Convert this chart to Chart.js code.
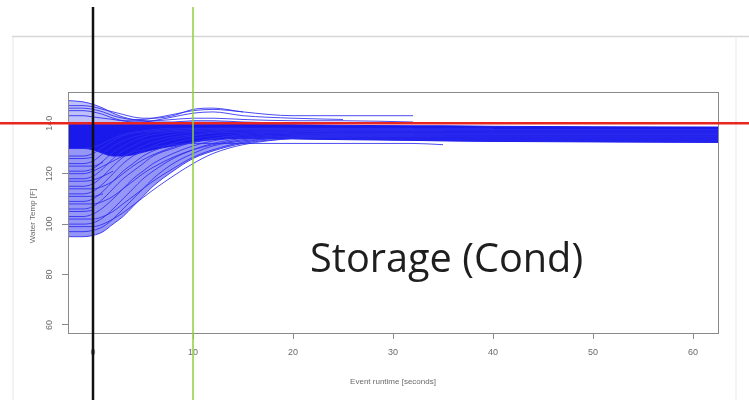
<!DOCTYPE html>
<html>
<head>
<meta charset="utf-8">
<script src="https://cdn.jsdelivr.net/npm/chart.js@4.4.1/dist/chart.umd.min.js"></script>
<style>
  html, body { margin: 0; padding: 0; background: #fff; }
  #wrap { width: 749px; height: 400px; position: relative; }
</style>
</head>
<body>
<div id="wrap"><canvas id="grafico"></canvas></div>
<script>
// eixo x (segundos) e ticks
const times = [-2.5, -1, 0, 1, 2, 3, 4, 5, 6, 8, 10, 12, 15, 20, 25, 32, 35, 40, 50, 62.5];
const xTicks = [0, 10, 20, 30, 40, 50, 60];
const yTicks = [60, 80, 100, 120, 140];

// faixa densa (topo / base)
const bandTop    = [139.6, 139.6, 139.6, 139.6, 139.6, 139.6, 139.6, 139.6, 139.6, 139.6, 139.6, 139.6, 139.5, 139.4, 139.2, 139, 139, 138.8, 138.6, 138.5];
const bandBottom = [130, 130, 129.5, 128, 127, 127, 127.5, 128.5, 129.5, 131, 132.5, 133.5, 134, 133.8, 133.5, 133.2, 133, 132.8, 132.6, 132.4];

// curvas que sobem (agua fria no inicio)
const c95  = [95, 95, 95.5, 97, 100, 103, 107, 111, 115, 121, 126, 129, 132, 134, 134.5, 135, 135, 135, 135, 135];
const c97  = [97, 97, 97.5, 99, 102, 106, 110, 114, 118, 124, 128, 131, 133, 134.5, 135, 135, 135, null, null, null];
const c99  = [99, 99, 99, 100, 102, 104.5, 107.5, 110.5, 113.5, 119, 124, 128, 131.5, 134, 135, 135.5, null, null, null, null];
const c100 = [100, 100, 100.5, 102.5, 106, 110, 114, 118, 121, 126, 129.5, 132, 134, 135, 135.5, 135.5, 135.5, 135.5, 135.5, 135.5];
const c102 = [102, 102, 102, 103, 105, 108, 111, 114, 117, 122, 126.5, 129.5, 132.5, 134.5, 135, 135, null, null, null, null];
const c103 = [103, 103, 104, 106.5, 110, 114, 118, 121, 124, 128, 131, 133, 134.5, 135.5, 136, 136, 136, 136, 136, 136];
const c106 = [106, 106, 107, 110, 114, 118, 121, 124, 127, 130, 132.5, 134, 135, 136, 136, 136, null, null, null, null];
const c108 = [108, 108, 108, 109, 111, 114, 117, 120, 122.5, 126.5, 129.5, 131.5, 133.5, 135, 135.5, null, null, null, null, null];
const c109 = [109, 109, 110, 113, 117, 121, 124, 127, 129, 132, 134, 135, 136, 136.5, 136.5, 136.5, 136.5, 136.5, 136.5, 136.5];
const c112 = [112, 112, 113, 116, 120, 124, 127, 129, 131, 133.5, 135, 136, 136.5, 137, 137, 137, 137, null, null, null];
const c114 = [114, 114, 114, 115, 117, 120, 123, 125.5, 127.5, 130.5, 132.5, 134, 135.5, 136.5, 137, null, null, null, null, null];
const c115 = [115, 115, 116, 119, 123, 126.5, 129, 131, 132.5, 134.5, 135.5, 136.5, 137, 137, 137, 137, 137, 137, 137, 137];
const c118 = [118, 118, 119, 122, 126, 129, 131, 133, 134, 135.5, 136.5, 137, 137.5, 137.5, 137.5, 137.5, 137.5, 137.5, 137.5, 137.5];
const c120 = [120, 120, 121, 123, 125, 127, 128.5, 129.5, 130.5, 131.5, 132, 132, 132, 132, 132, 132, 131.5, null, null, null];
const c121 = [121, 121, 122, 125, 128.5, 131, 133, 134.5, 135.5, 136.5, 137, 137.5, 137.5, 137.5, 137.5, 137.5, 137.5, 137.5, 137.5, 137.5];
const c124 = [124, 124, 125, 128, 131, 133, 134.5, 135.5, 136.5, 137, 137.5, 138, 138, 138, 138, 138, 138, 138, null, null];
const c127 = [127, 127, 128, 130.5, 133, 135, 136, 136.5, 137, 137.5, 138, 138, 138, 138, 138, 138, null, null, null, null];
const c130 = [130, 130, 130.5, 132, 134, 135.5, 136.5, 137, 137.5, 138, 138, 138, 138, 138, null, null, null, null, null, null];
// pedacos curtos antes do evento
const d105 = [105, 105, 105.5, null, null, null, null, null, null, null, null, null, null, null, null, null, null, null, null, null];
const d111 = [111, 111, 111, 112, null, null, null, null, null, null, null, null, null, null, null, null, null, null, null, null];
const d117 = [117, 117, 117.5, 119, 121, null, null, null, null, null, null, null, null, null, null, null, null, null, null, null];
const d123 = [123, 123, 123, 124.5, null, null, null, null, null, null, null, null, null, null, null, null, null, null, null, null];
const d126 = [126, 126, 126.5, null, null, null, null, null, null, null, null, null, null, null, null, null, null, null, null, null];

// curvas acima de 140
const u149 = [149, 148.5, 147.5, 146, 144, 142.5, 141.5, 141, 140.5, 140.5, 141, 141, 140.5, 140, null, null, null, null, null, null];
const u147 = [147, 147, 146.5, 145.5, 144.5, 143.5, 142.5, 142, 142, 143, 145.5, 146, 144.5, 143, 143, 143, null, null, null, null];
const u146 = [146, 146, 145.5, 144.5, 143, 142, 141.5, 141.5, 142, 143.5, 145, 145.5, 144.5, null, null, null, null, null, null, null];
const u145 = [145, 145, 144.5, 143.5, 142, 141, 140.5, 140.5, 141, 142.5, 144, 144.5, 143, 142, 141.5, null, null, null, null, null];
const u143 = [143, 143, 142.5, 142, 141.5, 141, 141, 141, 141, 141.5, 142, 142, 141.5, 141, 141, 140.5, null, null, null, null];

const curvas = [c95, c97, c99, c100, c102, c103, c106, c108, c109, c112, c114, c115, c118, c120, c121, c124, c127, c130,
                d105, d111, d117, d123, d126, u149, u147, u146, u145, u143];

function pontos(vals) {
  return times.map((t, i) => ({ x: t, y: vals[i] }));
}

const idxTop = curvas.length;
const idxBottom = curvas.length + 1;

const datasets = [];
for (let i = 0; i < curvas.length; i++) {
  const ds = {
    data: pontos(curvas[i]),
    borderColor: 'rgba(45,45,240,0.85)',
    borderWidth: 1,
    pointRadius: 0,
    fill: false,
    cubicInterpolationMode: 'monotone'
  };
  // leque de baixo e de cima com preenchimento leve
  if (curvas[i] === c95) { ds.fill = idxBottom; ds.backgroundColor = 'rgba(45,45,240,0.5)'; }
  if (curvas[i] === u149) { ds.fill = idxTop; ds.backgroundColor = 'rgba(45,45,240,0.3)'; }
  datasets.push(ds);
}
datasets.push({
  data: pontos(bandTop),
  borderColor: 'rgb(25,25,235)',
  borderWidth: 1,
  pointRadius: 0,
  fill: false,
  cubicInterpolationMode: 'monotone'
});
datasets.push({
  data: pontos(bandBottom),
  borderColor: 'rgb(25,25,235)',
  backgroundColor: 'rgb(25,25,235)',
  borderWidth: 1,
  pointRadius: 0,
  fill: '-1',
  cubicInterpolationMode: 'monotone'
});

const extras = {
  id: 'extras',
  beforeDraw(chart) {
    const c = chart.ctx;
    c.save();
    c.fillStyle = '#fff';
    c.fillRect(0, 0, chart.width, chart.height);
    // moldura do slide
    c.strokeStyle = '#d6d6d6';
    c.lineWidth = 1.5;
    c.beginPath();
    c.moveTo(12, 36.5); c.lineTo(749, 36.5);
    c.stroke();
    c.strokeStyle = '#f0f0f0';
    c.beginPath();
    c.moveTo(13, 37); c.lineTo(13, 400);
    c.moveTo(736, 37); c.lineTo(736, 400);
    c.stroke();
    c.restore();
  },
  afterDraw(chart) {
    const c = chart.ctx;
    const a = chart.chartArea;
    const x = chart.scales.x, y = chart.scales.y;
    c.save();
    // caixa do grafico
    c.strokeStyle = '#8a8a8a';
    c.lineWidth = 1;
    c.strokeRect(a.left + 0.5, a.top + 0.5, a.right - a.left, a.bottom - a.top);

    // rotulos do eixo y (girados)
    c.fillStyle = '#6a6a6a';
    c.font = '9px "Liberation Sans", Arial';
    c.textAlign = 'center';
    c.textBaseline = 'middle';
    yTicks.forEach(v => {
      c.save();
      c.translate(50, y.getPixelForValue(v));
      c.rotate(-Math.PI / 2);
      c.fillText(String(v), 0, 0);
      c.restore();
    });
    c.save();
    c.translate(33, 216);
    c.rotate(-Math.PI / 2);
    c.font = '8px "Liberation Sans", Arial';
    c.fillText('Water Temp [F]', 0, 0);
    c.restore();

    // texto grande
    c.fillStyle = '#1e1e1e';
    c.font = '36px "Open Sans"';
    const w = c.measureText('Storage (Cond)').width;
    const size = 36 * 273 / w;
    c.font = size.toFixed(1) + 'px "Open Sans"';
    c.textAlign = 'left';
    c.textBaseline = 'alphabetic';
    c.fillText('Storage (Cond)', 310, 272);

    // linha vermelha em 140
    const yr = y.getPixelForValue(140);
    c.strokeStyle = '#e8261f';
    c.lineWidth = 2.5;
    c.beginPath();
    c.moveTo(0, yr); c.lineTo(chart.width, yr);
    c.stroke();

    // verticais em 0 e 10
    c.strokeStyle = '#111';
    c.lineWidth = 2.5;
    c.beginPath();
    c.moveTo(x.getPixelForValue(0), 7); c.lineTo(x.getPixelForValue(0), 400);
    c.stroke();
    c.strokeStyle = '#8ccf3c';
    c.lineWidth = 1.5;
    c.beginPath();
    c.moveTo(x.getPixelForValue(10), 7); c.lineTo(x.getPixelForValue(10), 400);
    c.stroke();
    c.restore();
  }
};

new Chart(document.getElementById('grafico'), {
  type: 'line',
  data: { datasets: datasets },
  options: {
    responsive: true,
    maintainAspectRatio: false,
    animation: false,
    events: [],
    layout: { padding: { left: 0, top: 92, right: 31, bottom: 0 } },
    plugins: { legend: { display: false }, tooltip: { enabled: false } },
    scales: {
      x: {
        type: 'linear',
        min: -2.5,
        max: 62.5,
        afterBuildTicks: s => { s.ticks = xTicks.map(v => ({ value: v })); },
        afterFit: s => { s.height = 67; },
        grid: { drawOnChartArea: false, drawTicks: true, tickLength: 6, color: '#8a8a8a' },
        border: { display: false },
        ticks: { color: '#6a6a6a', font: { size: 9, family: '"Liberation Sans", Arial' }, padding: 8, maxRotation: 0 },
        title: { display: true, text: 'Event runtime [seconds]', color: '#6a6a6a',
                 font: { size: 8, family: '"Liberation Sans", Arial' }, padding: { top: 4, bottom: 13 } }
      },
      y: {
        type: 'linear',
        min: 56.8,
        max: 152.4,
        afterBuildTicks: s => { s.ticks = yTicks.map(v => ({ value: v })); },
        afterFit: s => { s.width = 68; },
        grid: { drawOnChartArea: false, drawTicks: true, tickLength: 6, color: '#8a8a8a' },
        border: { display: false },
        ticks: { display: false }
      }
    }
  },
  plugins: [extras]
});
</script>
</body>
</html>
